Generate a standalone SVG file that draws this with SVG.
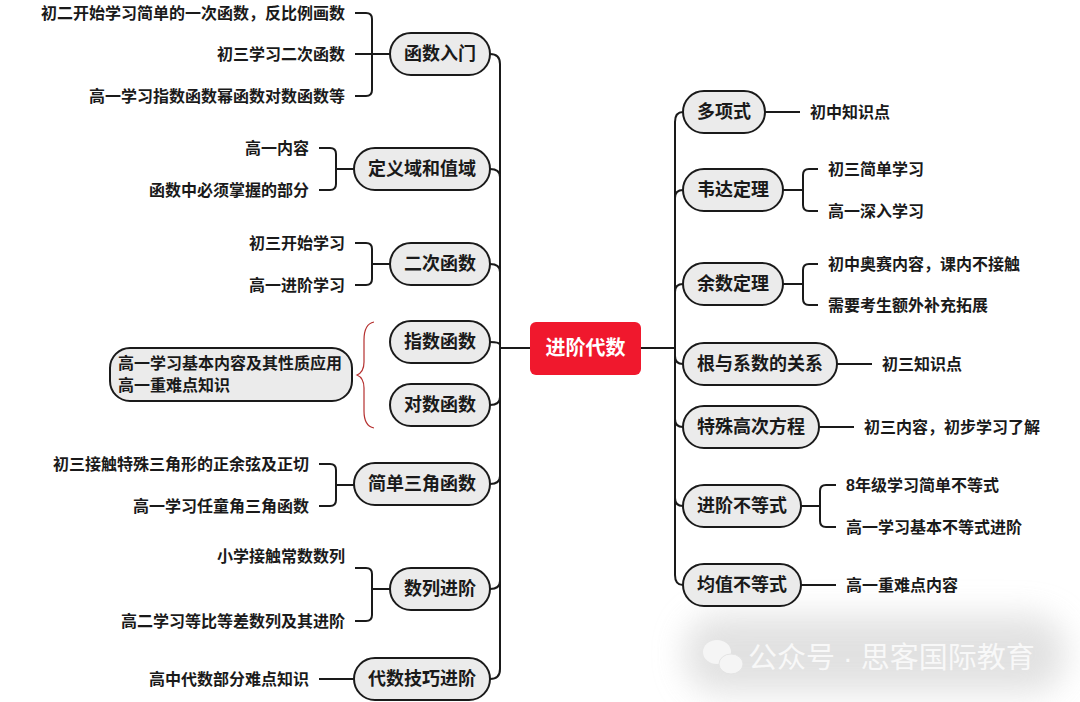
<svg xmlns="http://www.w3.org/2000/svg" width="1080" height="702" viewBox="0 0 1080 702">
<defs>
<style>
text{font-family:"Liberation Sans","Noto Sans CJK SC",sans-serif;font-weight:bold;dominant-baseline:central;fill:#1a1a1a}
.n rect{fill:#ebebeb;stroke:#1a1a1a;stroke-width:2}
.n text{font-size:18px;text-anchor:middle}
.lf{font-size:16px}
.l text{text-anchor:end}
.c path,.c line{fill:none;stroke:#1a1a1a;stroke-width:2}
</style>
<filter id="blur" x="-20%" y="-50%" width="140%" height="200%"><feGaussianBlur stdDeviation="16"/></filter>
</defs>
<rect width="1080" height="702" fill="#ffffff"/>

<!-- watermark -->
<g id="watermark">
<rect x="685" y="615" width="380" height="78" rx="34" fill="#d8d8d8" opacity="0.75" filter="url(#blur)"/>
<ellipse cx="717" cy="652" rx="14" ry="12" fill="#f5f5f5"/>
<ellipse cx="731" cy="664" rx="12" ry="10" fill="#f5f5f5" stroke="#e4e4e4"/>
<text x="748" y="658" style="font-size:29px;font-weight:normal;fill:#f8f8f8">公众号 · 思客国际教育</text>
</g>

<g id="connectors" class="c">
<!-- left trunk -->
<path d="M490,54 Q500,54 500,64 V669 Q500,679 490,679"/>
<line x1="500" y1="348" x2="530" y2="348"/>
<path d="M500,177 Q500,169 490,169"/>
<path d="M500,272 Q500,264 490,264"/>
<path d="M500,345 Q500,342 490,342"/>
<path d="M500,397 Q500,405 490,405"/>
<path d="M500,476 Q500,484 490,484"/>
<path d="M500,581 Q500,589 490,589"/>
<!-- right trunk -->
<path d="M683,112 Q675,112 675,122 V575 Q675,585 683,585"/>
<line x1="641" y1="348" x2="675" y2="348"/>
<path d="M675,198 Q675,190 683,190"/>
<path d="M675,292 Q675,284 683,284"/>
<path d="M675,356 Q675,364 683,364"/>
<path d="M675,419 Q675,427 683,427"/>
<path d="M675,498 Q675,506 683,506"/>

<!-- left leaves -->
<path d="M355,13 H366 Q372,13 372,19 V90 Q372,96 366,96 H355 M355,54 H390"/>
<path d="M319,148 H330 Q336,148 336,154 V184 Q336,190 330,190 H319 M336,169 H354"/>
<path d="M355,243 H366 Q372,243 372,249 V279 Q372,285 366,285 H355 M372,264 H390"/>
<path d="M319,464 H330 Q336,464 336,470 V500 Q336,506 330,506 H319 M336,485 H354"/>
<path d="M355,568 H366 Q372,568 372,574 V615 Q372,621 366,621 H355 M372,589 H390"/>
<line x1="319" y1="679" x2="354" y2="679"/>
<!-- brace -->
<path d="M374,322 Q364,324 364,340 V362 Q364,372 357,375 Q364,378 364,388 V411 Q364,426 374,428" style="stroke:#b5302f;stroke-width:1.2"/>

<!-- right leaves -->
<line x1="765" y1="112" x2="800" y2="112"/>
<path d="M783,190 H803 M818,169 H809 Q803,169 803,175 V205 Q803,211 809,211 H818"/>
<path d="M783,284 H803 M818,264 H809 Q803,264 803,270 V299 Q803,305 809,305 H818"/>
<line x1="837" y1="364" x2="872" y2="364"/>
<line x1="819" y1="427" x2="854" y2="427"/>
<path d="M801,506 H820 M836,485 H826 Q820,485 820,491 V521 Q820,527 826,527 H836"/>
<line x1="801" y1="585" x2="836" y2="585"/>
</g>

<!-- center -->
<g id="center">
<rect x="530" y="322" width="111" height="53" rx="6" fill="#f0182d"/>
<text x="585.5" y="348" style="font-size:20px;fill:#ffffff;text-anchor:middle">进阶代数</text>
</g>

<!-- left nodes -->
<g id="n-hanshurumen" class="n"><rect x="390" y="33" width="100" height="42" rx="21"/><text x="440" y="54">函数入门</text></g>
<g id="n-dingyiyu" class="n"><rect x="354" y="148" width="136" height="42" rx="21"/><text x="422" y="169">定义域和值域</text></g>
<g id="n-ercihanshu" class="n"><rect x="390" y="243" width="100" height="42" rx="21"/><text x="440" y="264">二次函数</text></g>
<g id="n-zhishu" class="n"><rect x="390" y="321" width="100" height="42" rx="21"/><text x="440" y="342">指数函数</text></g>
<g id="n-duishu" class="n"><rect x="390" y="384" width="100" height="42" rx="21"/><text x="440" y="405">对数函数</text></g>
<g id="n-sanjiao" class="n"><rect x="354" y="463" width="136" height="42" rx="21"/><text x="422" y="484">简单三角函数</text></g>
<g id="n-shulie" class="n"><rect x="390" y="568" width="100" height="42" rx="21"/><text x="440" y="589">数列进阶</text></g>
<g id="n-jiqiao" class="n"><rect x="354" y="658" width="136" height="42" rx="21"/><text x="422" y="679">代数技巧进阶</text></g>

<!-- summary node -->
<g id="n-summary">
<rect x="110" y="348" width="242" height="53" rx="20" fill="#ebebeb" stroke="#1a1a1a" stroke-width="2"/>
<text class="lf" x="118" y="363">高一学习基本内容及其性质应用</text>
<text class="lf" x="118" y="385">高一重难点知识</text>
</g>

<!-- left leaves -->
<g id="leaves-left" class="l">
<text class="lf" x="345" y="13">初二开始学习简单的一次函数，反比例画数</text>
<text class="lf" x="345" y="54">初三学习二次函数</text>
<text class="lf" x="345" y="96">高一学习指数函数幂函数对数函数等</text>
<text class="lf" x="309" y="148">高一内容</text>
<text class="lf" x="309" y="190">函数中必须掌握的部分</text>
<text class="lf" x="345" y="243">初三开始学习</text>
<text class="lf" x="345" y="285">高一进阶学习</text>
<text class="lf" x="309" y="464">初三接触特殊三角形的正余弦及正切</text>
<text class="lf" x="309" y="506">高一学习任童角三角函数</text>
<text class="lf" x="345" y="556">小学接触常数数列</text>
<text class="lf" x="345" y="621">高二学习等比等差数列及其进阶</text>
<text class="lf" x="309" y="679">高中代数部分难点知识</text>
</g>

<!-- right nodes -->
<g id="n-duoxiangshi" class="n"><rect x="683" y="91" width="82" height="42" rx="21"/><text x="724" y="112">多项式</text></g>
<g id="n-weida" class="n"><rect x="683" y="169" width="100" height="42" rx="21"/><text x="733" y="190">韦达定理</text></g>
<g id="n-yushu" class="n"><rect x="683" y="263" width="100" height="42" rx="21"/><text x="733" y="284">余数定理</text></g>
<g id="n-genyuxishu" class="n"><rect x="683" y="343" width="154" height="42" rx="21"/><text x="760" y="364">根与系数的关系</text></g>
<g id="n-gaoci" class="n"><rect x="683" y="406" width="136" height="42" rx="21"/><text x="751" y="427">特殊高次方程</text></g>
<g id="n-jinjiebudeng" class="n"><rect x="683" y="485" width="118" height="42" rx="21"/><text x="742" y="506">进阶不等式</text></g>
<g id="n-junzhi" class="n"><rect x="683" y="564" width="118" height="42" rx="21"/><text x="742" y="585">均值不等式</text></g>

<g id="leaves-right">
<text class="lf" x="810" y="112">初中知识点</text>
<text class="lf" x="828" y="169">初三简单学习</text>
<text class="lf" x="828" y="211">高一深入学习</text>
<text class="lf" x="828" y="264">初中奥赛内容，课内不接触</text>
<text class="lf" x="828" y="305">需要考生额外补充拓展</text>
<text class="lf" x="882" y="364">初三知识点</text>
<text class="lf" x="864" y="427">初三内容，初步学习了解</text>
<text class="lf" x="846" y="485">8年级学习简单不等式</text>
<text class="lf" x="846" y="527">高一学习基本不等式进阶</text>
<text class="lf" x="846" y="585">高一重难点内容</text>
</g>
</svg>
